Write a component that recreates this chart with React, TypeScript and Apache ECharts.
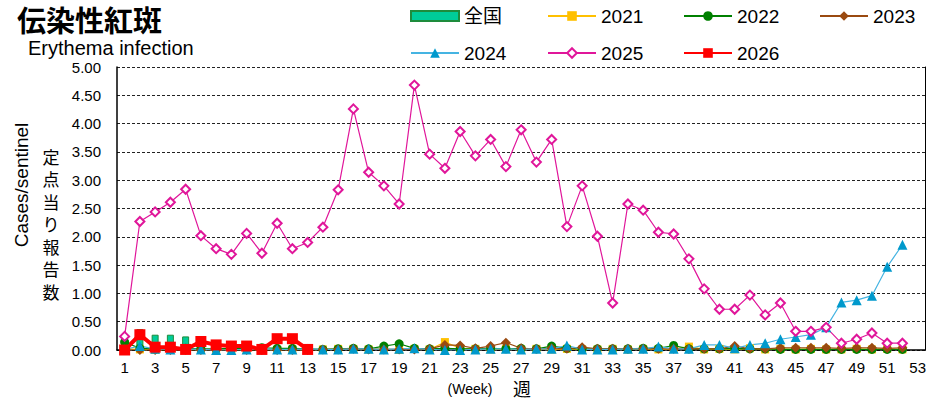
import React, { useEffect, useRef } from "react";
import * as echarts from "echarts";

const weeks: string[] = Array.from({ length: 53 }, (_, i) => String(i + 1));
const yTicks = [0, 0.5, 1, 1.5, 2, 2.5, 3, 3.5, 4, 4.5, 5];

const national = [0.12, 0.37, 0.27, 0.27, 0.24, 0.07, 0.05, 0.05, 0.04, 0.07, 0.05, 0.05, 0.05];

const y2021 = [0.02, 0.01, 0.0, 0.01, 0.0, 0.01, 0.0, 0.01, 0.0, 0.01, 0.0, 0.01, 0.0, 0.01, 0.02, 0.02, 0.01, 0.02, 0.0, 0.02, 0.01, 0.14, 0.03, 0.02, 0.01, 0.02, 0.01, 0.02, 0.01, 0.02, 0.01, 0.01, 0.02, 0.01, 0.02, 0.01, 0.02, 0.06, 0.01, 0.02, 0.01, 0.03, 0.01, 0.02, 0.01, 0.02, 0.01, 0.01, 0.02, 0.01, 0.02, 0.01];

const y2022 = [0.14, 0.03, 0.02, 0.02, 0.03, 0.02, 0.02, 0.03, 0.02, 0.04, 0.03, 0.03, 0.02, 0.01, 0.02, 0.03, 0.02, 0.07, 0.11, 0.03, 0.02, 0.03, 0.02, 0.02, 0.03, 0.02, 0.03, 0.02, 0.07, 0.03, 0.02, 0.02, 0.02, 0.02, 0.03, 0.03, 0.08, 0.02, 0.02, 0.02, 0.03, 0.02, 0.02, 0.01, 0.01, 0.01, 0.01, 0.01, 0.01, 0.01, 0.01, 0.01];

const y2023 = [0.0, 0.0, 0.0, 0.0, 0.0, 0.0, 0.0, 0.0, 0.0, 0.0, 0.0, 0.0, 0.0, 0.01, 0.01, 0.02, 0.01, 0.01, 0.01, 0.01, 0.02, 0.09, 0.08, 0.03, 0.07, 0.13, 0.03, 0.02, 0.03, 0.02, 0.05, 0.02, 0.02, 0.02, 0.02, 0.02, 0.02, 0.02, 0.02, 0.02, 0.07, 0.02, 0.02, 0.04, 0.04, 0.04, 0.04, 0.03, 0.04, 0.04, 0.03, 0.04];

const y2024 = [0.01, 0.07, 0.02, 0.01, 0.02, 0.01, 0.0, 0.0, 0.01, 0.02, 0.01, 0.01, 0.02, 0.01, 0.01, 0.02, 0.02, 0.01, 0.02, 0.03, 0.01, 0.0, 0.0, 0.01, 0.02, 0.02, 0.01, 0.02, 0.02, 0.08, 0.01, 0.01, 0.01, 0.02, 0.02, 0.06, 0.02, 0.02, 0.09, 0.09, 0.03, 0.09, 0.12, 0.19, 0.23, 0.27, 0.4, 0.84, 0.88, 0.96, 1.47, 1.86];

const y2025 = [0.24, 2.27, 2.44, 2.61, 2.84, 2.02, 1.79, 1.69, 2.06, 1.71, 2.24, 1.79, 1.9, 2.17, 2.83, 4.26, 3.14, 2.9, 2.58, 4.68, 3.46, 3.21, 3.86, 3.43, 3.72, 3.24, 3.89, 3.32, 3.72, 2.18, 2.9, 2.01, 0.83, 2.58, 2.47, 2.08, 2.05, 1.61, 1.08, 0.72, 0.72, 0.97, 0.62, 0.83, 0.33, 0.33, 0.4, 0.12, 0.19, 0.3, 0.12, 0.12];

const y2026 = [0.0, 0.27, 0.05, 0.05, 0.01, 0.15, 0.09, 0.07, 0.07, 0.01, 0.2, 0.2, 0.01];

const yNameJa = ["定", "点", "当", "り", "報", "告", "数"];

const FONT = "'Liberation Sans', Arial, 'Noto Sans CJK JP', sans-serif";
const JFONT = "'Noto Sans CJK JP', 'Liberation Sans', sans-serif";

export default function App() {
  const ref = useRef<HTMLDivElement>(null);
  useEffect(() => {
    if (!ref.current) return;
    const chart = echarts.init(ref.current, null, { renderer: "svg" });
    const lineSeries = (name: string, data: number[], color: string, symbol: string, size: number, extra: any = {}) => ({
      name,
      type: "line",
      data,
      symbol,
      symbolSize: size,
      showSymbol: true,
      showAllSymbol: true,
      itemStyle: { color },
      lineStyle: { color, width: 1.2 },
      ...extra,
    });
    const legendText = { fontSize: 19, fontFamily: FONT, color: "#000", lineHeight: 22 };
    const mkLegend = (name: string, left: number, top: number, extra: any = {}) => ({
      data: [name],
      left,
      top,
      itemWidth: 48,
      itemHeight: 12,
      padding: 0,
      textStyle: legendText,
      selectedMode: false,
      ...extra,
    });
    const jaChars = yNameJa.map((ch, i) => ({
      type: "text",
      x: 51,
      y: 156 + i * 22.5,
      style: { text: ch, fontSize: 17, lineHeight: 20, fontFamily: JFONT, fill: "#000", align: "center", verticalAlign: "middle" },
    }));
    chart.setOption({
      animation: false,
      grid: { left: 117, right: 2, top: 67, bottom: 51 },
      legend: [
        mkLegend("全国", 410, 5, { icon: "rect", itemHeight: 10 }),
        mkLegend("2021", 547, 5),
        mkLegend("2022", 683, 5),
        mkLegend("2023", 819, 5),
        mkLegend("2024", 410, 42),
        mkLegend("2025", 547, 42),
        mkLegend("2026", 683, 42),
      ],
      xAxis: {
        type: "category",
        data: weeks,
        boundaryGap: true,
        axisLine: { lineStyle: { color: "#000", width: 1.5 } },
        axisTick: { show: false },
        axisLabel: { interval: 1, fontSize: 15, fontFamily: FONT, color: "#000", margin: 10 },
      },
      yAxis: [
        {
          type: "value",
          min: yTicks[0],
          max: yTicks[yTicks.length - 1],
          interval: 0.5,
          axisLine: { show: true, lineStyle: { color: "#000", width: 1.5 } },
          axisTick: { show: false },
          axisLabel: { fontSize: 15, fontFamily: FONT, color: "#000", margin: 16, formatter: (v: number) => v.toFixed(2) },
          splitLine: { show: true, lineStyle: { color: "#222", width: 1, type: [3, 2] } },
        },
        {
          type: "value",
          position: "right",
          min: 0,
          max: 5,
          axisLine: { show: true, lineStyle: { color: "#000", width: 1 } },
          axisTick: { show: false },
          axisLabel: { show: false },
          splitLine: { show: false },
        },
      ],
      series: [
        {
          name: "全国",
          type: "bar",
          data: national,
          barWidth: 7,
          z: 1,
          itemStyle: { color: "#00CC99", borderColor: "#1E8C3C", borderWidth: 1 },
        },
        lineSeries("2021", y2021, "#FFC000", "rect", 8),
        lineSeries("2022", y2022, "#008000", "circle", 9),
        lineSeries("2023", y2023, "#9A4A10", "diamond", 10),
        lineSeries("2024", y2024, "#0099CC", "triangle", 10, { lineStyle: { color: "#45B4E2", width: 1.2 } }),
        lineSeries("2025", y2025, "#E0169A", "emptyDiamond", 9, { itemStyle: { color: "#E0169A", borderWidth: 1.5 } }),
        lineSeries("2026", y2026, "#FF0000", "rect", 11, { lineStyle: { color: "#FF0000", width: 4 } }),
      ],
      graphic: [
        { type: "text", x: 17, y: 19, style: { text: "伝染性紅斑", fontSize: 29, lineHeight: 30, fontWeight: "bold", fontFamily: JFONT, fill: "#000", verticalAlign: "middle" } },
        { type: "text", x: 28, y: 48, style: { text: "Erythema infection", fontSize: 20, lineHeight: 22, fontFamily: FONT, fill: "#000", verticalAlign: "middle" } },
        { type: "text", x: 21, y: 185, rotation: Math.PI / 2, style: { text: "Cases/sentinel", fontSize: 19, fontFamily: FONT, fill: "#000", align: "center", verticalAlign: "middle" } },
        ...jaChars,
        { type: "text", x: 470, y: 389, style: { text: "(Week)", fontSize: 14, fontFamily: FONT, fill: "#000", align: "center", verticalAlign: "middle" } },
        { type: "text", x: 522, y: 388, style: { text: "週", fontSize: 18, lineHeight: 20, fontFamily: JFONT, fill: "#000", align: "center", verticalAlign: "middle" } },
      ],
    });
    return () => chart.dispose();
  }, []);
  return <div ref={ref} style={{ position: "fixed", left: 0, top: 0, width: 929, height: 401, background: "#fff" }} />;
}
